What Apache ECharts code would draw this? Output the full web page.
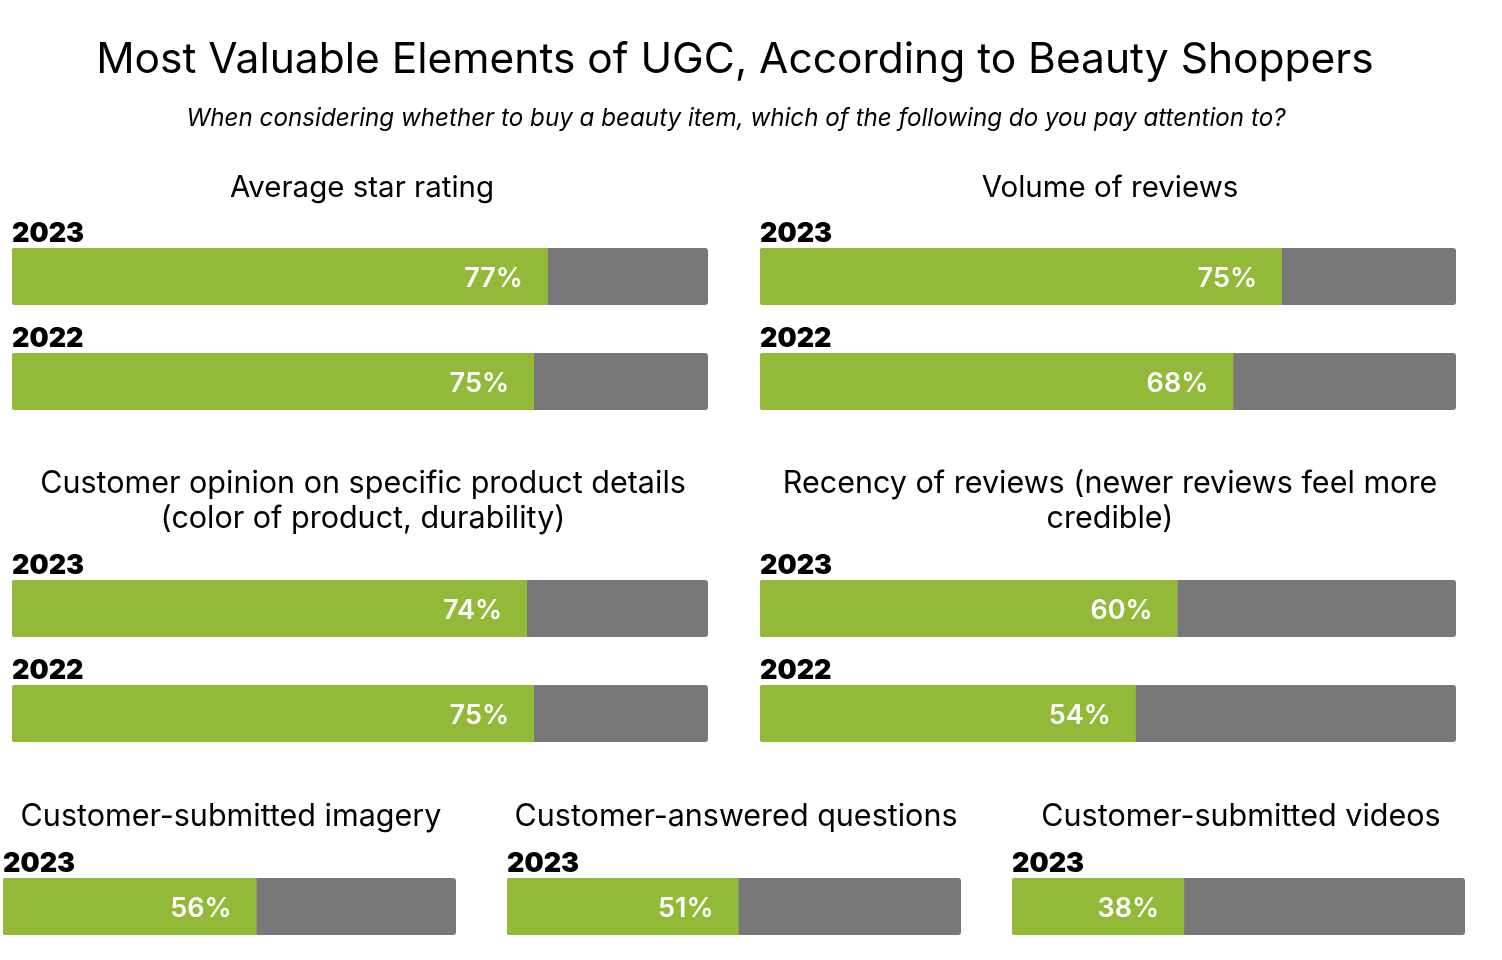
<!DOCTYPE html>
<html><head><meta charset="utf-8">
<script src="https://cdn.jsdelivr.net/npm/echarts@6/dist/echarts.min.js"></script>
<style>html,body{margin:0;padding:0;background:#fff}#c{width:1502px;height:960px}</style>
</head><body><div id="c"></div>
<script>
const mainTitle = 'Most Valuable Elements of UGC, According to Beauty Shoppers';
const subTitle = 'When considering whether to buy a beauty item, which of the following do you pay attention to?';
const panelTitles = [
  'Average star rating',
  'Volume of reviews',
  'Customer opinion on specific product details\n(color of product, durability)',
  'Recency of reviews (newer reviews feel more\ncredible)',
  'Customer-submitted imagery',
  'Customer-answered questions',
  'Customer-submitted videos'
];
const yearsTwo = ['2023', '2022'];
const yearsOne = ['2023'];
const avgStarRating = [77, 75];
const volumeOfReviews = [75, 68];
const productDetails = [74, 75];
const recencyOfReviews = [60, 54];
const submittedImagery = [56];
const answeredQuestions = [51];
const submittedVideos = [38];
const fullScale = 100;

const GREEN = '#92ba38', GRAY = '#78787a';
const panels = [
  {years: yearsTwo, values: avgStarRating, grid: {left: 12, width: 696, top: 224, height: 210}, tx: 357, ty: 166, fs: 29.5},
  {years: yearsTwo, values: volumeOfReviews, grid: {left: 760, width: 696, top: 224, height: 210}, tx: 1105, ty: 166, fs: 29.5},
  {years: yearsTwo, values: productDetails, grid: {left: 12, width: 696, top: 556, height: 210}, tx: 358, ty: 461, fs: 30.5},
  {years: yearsTwo, values: recencyOfReviews, grid: {left: 760, width: 696, top: 556, height: 210}, tx: 1105, ty: 461, fs: 30.5},
  {years: yearsOne, values: submittedImagery, grid: {left: 3, width: 453, top: 854, height: 105}, tx: 226, ty: 794, fs: 30.5},
  {years: yearsOne, values: answeredQuestions, grid: {left: 507, width: 454, top: 854, height: 105}, tx: 731, ty: 794, fs: 30.5},
  {years: yearsOne, values: submittedVideos, grid: {left: 1012, width: 453, top: 854, height: 105}, tx: 1236, ty: 794, fs: 30.5}
];

const titles = [
  {text: mainTitle, left: 730, top: 34, textAlign: 'center',
   textStyle: {fontFamily: 'Inter', fontSize: 42.5, fontWeight: 400, color: '#000'}},
  {text: subTitle, left: 731, top: 102, textAlign: 'center',
   textStyle: {fontFamily: 'Inter', fontSize: 24.2, fontStyle: 'italic', fontWeight: 400, color: '#000'}}
];
const grids = [], xAxes = [], yAxes = [], series = [];
panels.forEach((p, i) => {
  titles.push({text: panelTitles[i], left: p.tx, top: p.ty, textAlign: 'center',
    textStyle: {fontFamily: 'Inter', fontSize: p.fs, fontWeight: 400, color: '#000', lineHeight: 35}});
  grids.push(Object.assign({containLabel: false}, p.grid));
  xAxes.push({type: 'value', gridIndex: i, min: 0, max: fullScale, show: false});
  yAxes.push({type: 'category', gridIndex: i, data: p.years, inverse: true, show: false});
  series.push({
    type: 'bar', xAxisIndex: i, yAxisIndex: i, barWidth: 57, silent: true,
    data: p.years.map(() => fullScale),
    itemStyle: {color: GRAY, borderRadius: 3},
    label: {show: true, position: [0, -1], verticalAlign: 'bottom', formatter: '{b}',
      fontFamily: 'Inter', fontWeight: 900, fontSize: 27, color: '#000', lineHeight: 27}
  });
  series.push({
    type: 'bar', xAxisIndex: i, yAxisIndex: i, barWidth: 57, barGap: '-100%', silent: true,
    data: p.values,
    itemStyle: {color: GREEN, borderRadius: [3, 0, 0, 3]},
    label: {show: true, position: 'insideRight', distance: 25, offset: [0, 2], formatter: '{c}%',
      fontFamily: 'Inter', fontWeight: 600, fontSize: 27, color: '#fff'}
  });
});

const chart = echarts.init(document.getElementById('c'), null, {renderer: 'canvas'});
chart.setOption({
  backgroundColor: '#fff',
  animation: false,
  title: titles,
  grid: grids,
  xAxis: xAxes,
  yAxis: yAxes,
  series: series
});
</script></body></html>
